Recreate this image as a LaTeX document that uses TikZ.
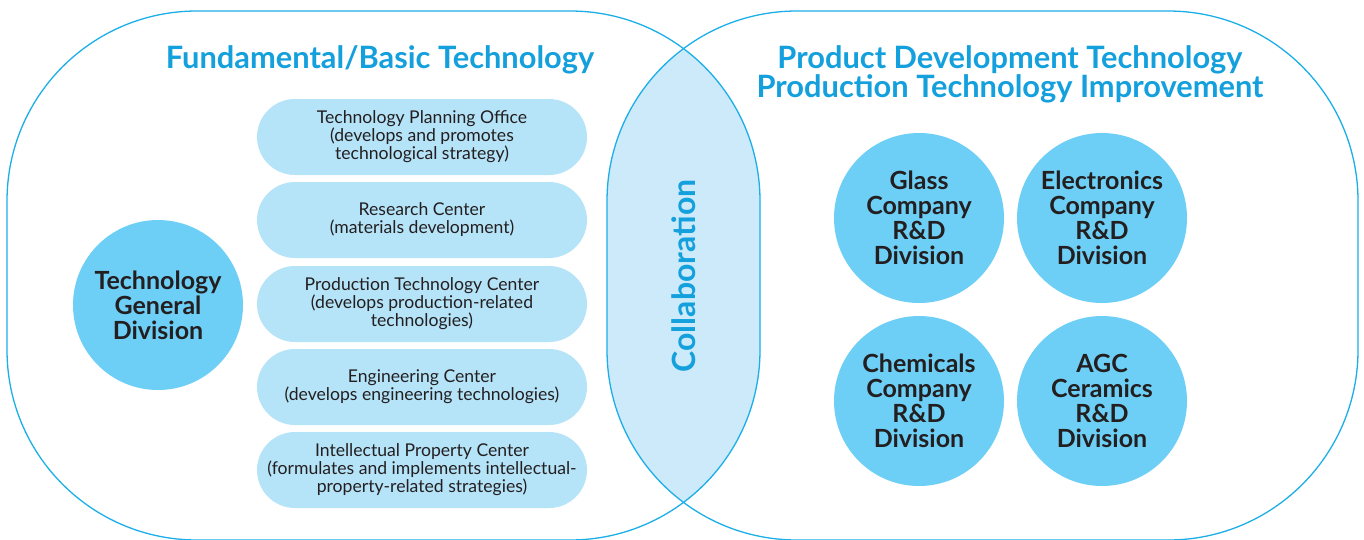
\documentclass[tikz,border=0pt]{standalone}
\usepackage{fontspec}
\setmainfont{Lato}
\definecolor{lineblue}{HTML}{1CAEE8}
\definecolor{titleblue}{HTML}{14A0DC}
\definecolor{pillblue}{HTML}{B5E3F8}
\definecolor{discblue}{HTML}{6DCFF6}
\definecolor{overlapblue}{HTML}{CCEAF9}
\definecolor{darktext}{HTML}{231F20}
\begin{document}
\begin{tikzpicture}[x=1pt,y=-1pt,
  outline/.style={draw=lineblue, line width=1.3pt, rounded corners=190pt},
  pill/.style={fill=pillblue, rounded corners=38pt, minimum width=330pt, minimum height=76pt,
    inner sep=0pt, align=center, text=darktext, font=\fontsize{17.6}{18}\selectfont},
  disc/.style={circle, fill=discblue, minimum size=170pt, inner sep=0pt, align=center,
    text=darktext, font=\bfseries\fontsize{25}{25}\selectfont},
  title/.style={text=titleblue, font=\bfseries\fontsize{30.8}{29}\selectfont, align=center},
  collab/.style={text=titleblue, font=\bfseries\fontsize{32}{32}\selectfont, rotate=90}]
\useasboundingbox (0,0) rectangle (1364,539);
% overlap
\begin{scope}
  \clip[rounded corners=190pt] (7,11) rectangle (760,540);
  \fill[overlapblue, rounded corners=190pt] (607,11) rectangle (1358,540);
\end{scope}
\draw[outline] (7,11) rectangle (760,540);
\draw[outline] (607,11) rectangle (1358,540);
% titles
\node[title] (t1) at (380,60) {Fundamental/Basic Technology};
\node[title] (t2) at (1010,74) {Product Development Technology\\Production Technology Improvement};
% left disc
\node[disc] (tgd) at (158,305) {Technology\\General\\Division};
% pills
\node[pill] (p1) at (422,137) {Technology Planning Office\\(develops and promotes\\technological strategy)};
\node[pill] (p2) at (422,220) {Research Center\\(materials development)};
\node[pill] (p3) at (422,304) {Production Technology Center\\(develops production-related\\technologies)};
\node[pill] (p4) at (422,387) {Engineering Center\\(develops engineering technologies)};
\node[pill] (p5) at (422,470) {Intellectual Property Center\\(formulates and implements intellectual-\\property-related strategies)};
% collaboration
\node[collab] (col) at (684,276) {Collaboration};
% right discs
\node[disc] (glass) at (919,218) {Glass\\Company\\R\&D\\Division};
\node[disc] (elec) at (1102,218) {Electronics\\Company\\R\&D\\Division};
\node[disc] (chem) at (919,401) {Chemicals\\Company\\R\&D\\Division};
\node[disc] (agc) at (1102,401) {AGC\\Ceramics\\R\&D\\Division};
\end{tikzpicture}
\end{document}
